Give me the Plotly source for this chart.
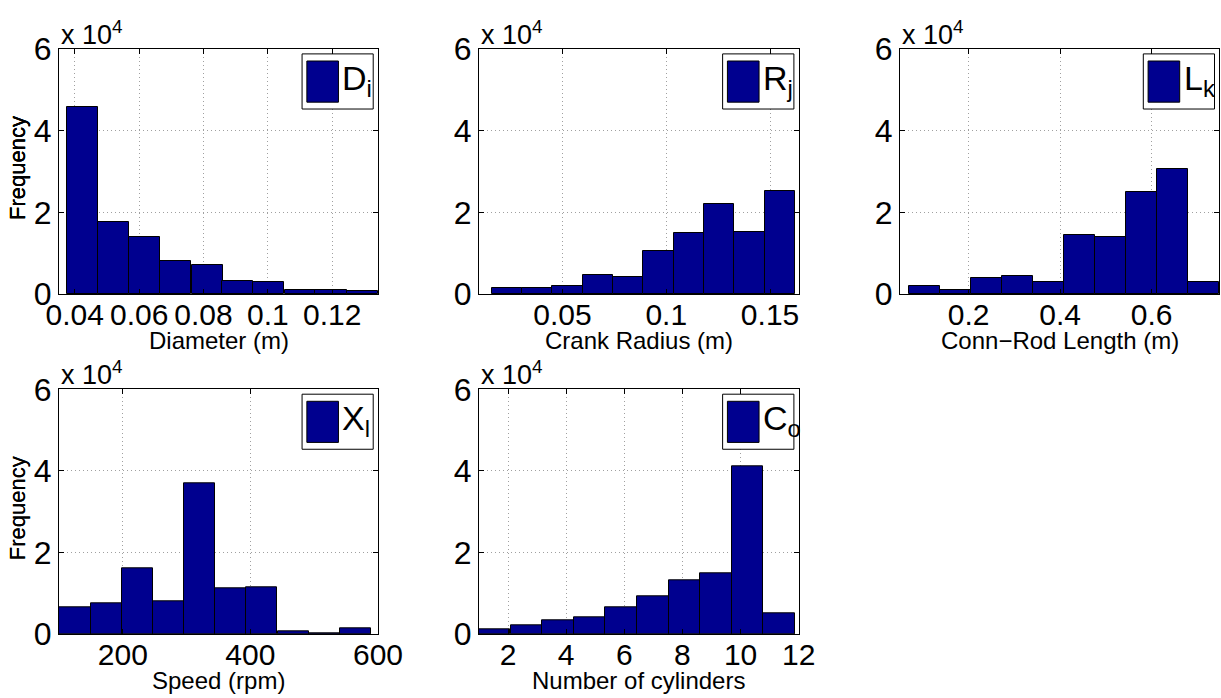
import plotly.graph_objects as go

# ---------------- data ----------------
diam_centers = [0.0425, 0.0521, 0.0618, 0.0714, 0.0811, 0.0907, 0.1003, 0.1100, 0.1196, 0.1293]
diam_counts = [45700, 17600, 13900, 8000, 7000, 3100, 2900, 900, 1100, 700]
diam_width = 0.00964

crank_centers = [0.0233, 0.0379, 0.0525, 0.0671, 0.0817, 0.0963, 0.1109, 0.1255, 0.1401, 0.1547]
crank_counts = [1550, 1400, 1960, 4650, 4200, 10600, 14900, 22000, 15200, 25200]
crank_width = 0.0146

rod_centers = [0.1039, 0.1715, 0.2392, 0.3069, 0.3746, 0.4423, 0.5100, 0.5777, 0.6454, 0.7131]
rod_counts = [1960, 1060, 4000, 4300, 2900, 14400, 13900, 25100, 30500, 2900]
rod_width = 0.0677

speed_centers = [125, 174, 223, 272, 320, 369, 418, 467, 516, 565]
speed_counts = [6540, 7500, 16200, 7900, 37000, 11300, 11400, 570, 160, 1400]
speed_width = 48.9

cyl_centers = [1.54, 2.63, 3.72, 4.80, 5.89, 6.98, 8.07, 9.15, 10.24, 11.33]
cyl_counts = [1060, 2100, 3350, 4170, 6540, 9240, 13100, 14800, 41000, 5070]
cyl_width = 1.087

x_titles = ["Diameter (m)", "Crank Radius (m)", "Conn\u2212Rod Length (m)", "Speed (rpm)", "Number of cylinders"]
y_title = "Frequency"
legend_names = ["D<sub>i</sub>", "R<sub>j</sub>", "L<sub>k</sub>", "X<sub>l</sub>", "C<sub>o</sub>"]
x_ranges = [[0.0351, 0.1342], [0.0098, 0.1638], [0.050, 0.748], [100, 600], [1, 12]]
x_tickvals = [[0.04, 0.06, 0.08, 0.1, 0.12], [0.05, 0.1, 0.15], [0.2, 0.4, 0.6], [200, 400, 600], [2, 4, 6, 8, 10, 12]]
x_ticktext = [["0.04", "0.06", "0.08", "0.1", "0.12"], ["0.05", "0.1", "0.15"], ["0.2", "0.4", "0.6"],
              ["200", "400", "600"], ["2", "4", "6", "8", "10", "12"]]
y_tickvals = [0, 20000, 40000, 60000]
y_ticktext = ["0", "2", "4", "6"]

series = [
    (diam_centers, diam_counts, diam_width),
    (crank_centers, crank_counts, crank_width),
    (rod_centers, rod_counts, rod_width),
    (speed_centers, speed_counts, speed_width),
    (cyl_centers, cyl_counts, cyl_width),
]

# ---------------- layout geometry ----------------
W, H = 1221, 698
col_px = [(59, 378), (479, 798.7), (900, 1219.3)]
row_px = [(49, 294), (389.3, 634)]
positions = [(0, 0), (0, 1), (0, 2), (1, 0), (1, 1)]

BAR = "#00008F"
FONT = "Liberation Sans, Arial, Helvetica, sans-serif"
GRID = "#a0a0a0"

fig = go.Figure()
layout = dict(
    width=W, height=H,
    margin=dict(l=0, r=0, t=0, b=0),
    paper_bgcolor="white", plot_bgcolor="white",
    showlegend=False,
    font=dict(family=FONT, color="black"),
    bargap=0,
)
annotations = []
shapes = []

for i, ((xc, yc, w), (r, c)) in enumerate(zip(series, positions)):
    n = i + 1
    xa = "x" if n == 1 else f"x{n}"
    ya = "y" if n == 1 else f"y{n}"
    fig.add_trace(go.Bar(
        x=xc, y=yc, width=[w] * len(xc), xaxis=xa, yaxis=ya,
        marker=dict(color=BAR, line=dict(color="black", width=1)),
        name=legend_names[i],
    ))
    x0, x1 = col_px[c]
    yt, yb = row_px[r]
    xdom = [x0 / W, x1 / W]
    ydom = [1 - yb / H, 1 - yt / H]
    axkey = "xaxis" if n == 1 else f"xaxis{n}"
    aykey = "yaxis" if n == 1 else f"yaxis{n}"
    layout[axkey] = dict(
        domain=xdom, anchor=ya, range=x_ranges[i],
        tickmode="array", tickvals=x_tickvals[i], ticktext=x_ticktext[i],
        ticks="inside", ticklen=5, tickcolor="black", tickwidth=1,
        showline=True, linecolor="black", linewidth=1, mirror="ticks",
        showgrid=True, gridcolor=GRID, griddash="1px,3px", gridwidth=1,
        zeroline=False, ticklabelstandoff=-6,
        tickfont=dict(size=30, family=FONT, color="black"),
        automargin=False,
    )
    layout[aykey] = dict(
        domain=ydom, anchor=xa, range=[0, 60000],
        tickmode="array", tickvals=y_tickvals, ticktext=y_ticktext,
        ticks="inside", ticklen=5, tickcolor="black", tickwidth=1,
        showline=True, linecolor="black", linewidth=1, mirror="ticks",
        showgrid=True, gridcolor=GRID, griddash="1px,3px", gridwidth=1,
        zeroline=False,
        tickfont=dict(size=32, family=FONT, color="black"),
        automargin=False,
    )
    # axis titles as annotations for exact placement
    annotations.append(dict(
        text=x_titles[i], xref="paper", yref="paper",
        x=(x0 + x1) / 2 / W, y=1 - (yb + 46) / H, xanchor="center", yanchor="middle",
        showarrow=False, font=dict(size=24, family=FONT, color="black"),
    ))
    annotations.append(dict(
        text=y_title, xref="paper", yref="paper", textangle=-90,
        x=17.5 / W, y=1 - ((yt + yb) / 2 - 3) / H, xanchor="center", yanchor="middle",
        showarrow=False, font=dict(size=22, family=FONT, color="black"),
    ))
    # exponent label
    annotations.append(dict(
        text="x 10<sup>4</sup>", xref=f"{xa} domain", yref=f"{ya} domain",
        x=0, y=1, xanchor="left", yanchor="bottom", yshift=-3, showarrow=False,
        font=dict(size=27, family=FONT, color="black"),
    ))
    # legend box drawn in the axis domain
    shapes.append(dict(type="rect", xref=f"{xa} domain", yref=f"{ya} domain",
                       x0=0.762, x1=0.985, y0=0.755, y1=0.980,
                       line=dict(color="black", width=1), fillcolor="white", layer="above"))
    shapes.append(dict(type="rect", xref=f"{xa} domain", yref=f"{ya} domain",
                       x0=0.777, x1=0.876, y0=0.783, y1=0.951,
                       line=dict(color="black", width=1), fillcolor=BAR, layer="above"))
    annotations.append(dict(
        text=legend_names[i], xref=f"{xa} domain", yref=f"{ya} domain",
        x=0.882, y=0.872, xanchor="left", yanchor="middle", showarrow=False,
        font=dict(size=34, family=FONT, color="black"),
    ))

layout["annotations"] = annotations
layout["shapes"] = shapes
fig.update_layout(**layout)
fig.write_html("out.html", config={"displayModeBar": False},
               post_script="document.body.style.margin='0px';")
